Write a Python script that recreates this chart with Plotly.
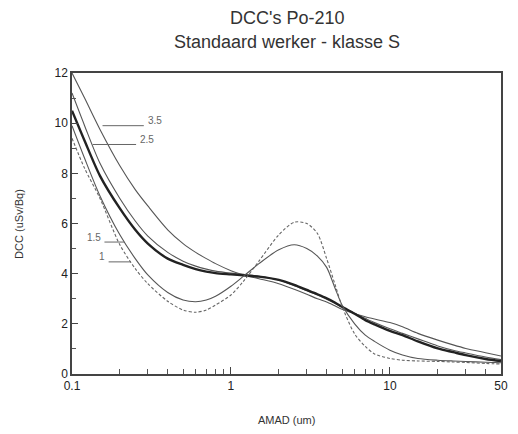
import math
import plotly.graph_objects as go

amad = [0.1, 0.12, 0.15, 0.2, 0.25, 0.3, 0.4, 0.5, 0.6, 0.7, 0.8, 1, 1.2, 1.5, 2, 2.5,
        3, 3.5, 4, 4.5, 5, 6, 7, 8, 10, 12, 15, 20, 25, 30, 40, 50]

dcc_35 = [12.0, 11.0, 9.75, 8.3, 7.35, 6.7, 5.75, 5.2, 4.85, 4.6, 4.4, 4.12, 3.95, 3.8, 3.6, 3.38,
          3.18, 3.0, 2.87, 2.72, 2.58, 2.4, 2.28, 2.19, 2.05, 1.88, 1.62, 1.35, 1.16, 1.02, 0.85, 0.72]
dcc_25 = [11.2, 9.9, 8.4, 7.0, 6.1, 5.5, 4.85, 4.5, 4.3, 4.18, 4.1, 4.02, 3.97, 3.9, 3.75, 3.52,
          3.32, 3.15, 2.98, 2.82, 2.67, 2.42, 2.22, 2.05, 1.8, 1.62, 1.4, 1.12, 0.95, 0.84, 0.68, 0.58]
dcc_thick = [10.5, 9.3, 7.9, 6.6, 5.75, 5.2, 4.6, 4.35, 4.18, 4.08, 4.02, 3.97, 3.93, 3.88, 3.75, 3.55,
             3.35, 3.18, 3.02, 2.85, 2.68, 2.4, 2.15, 1.98, 1.72, 1.55, 1.3, 1.02, 0.87, 0.75, 0.6, 0.52]
dcc_15 = [9.9, 8.6, 7.1, 5.55, 4.6, 3.95, 3.25, 2.95, 2.88, 2.95, 3.1, 3.5, 3.9, 4.4, 4.95, 5.15,
          5.0, 4.7, 4.25, 3.45, 2.75, 2.0, 1.55, 1.3, 0.95, 0.76, 0.62, 0.55, 0.52, 0.5, 0.47, 0.45]
dcc_1 = [9.4, 8.2, 7.0, 5.15, 4.2, 3.6, 2.9, 2.55, 2.46, 2.55, 2.75, 3.15, 3.7, 4.5, 5.55, 6.05,
         6.0, 5.6, 4.6, 3.6, 2.7, 1.6, 1.1, 0.8, 0.62, 0.55, 0.52, 0.5, 0.48, 0.46, 0.42, 0.4]

x_ticks = [0.1, 1, 10, 50]
x_tick_labels = ["0.1", "1", "10", "50"]
x_minor = [0.2, 0.3, 0.4, 0.5, 0.6, 0.7, 0.8, 0.9, 2, 3, 4, 5, 6, 7, 8, 9, 20, 30, 40]
y_ticks = [0, 2, 4, 6, 8, 10, 12]

FONT = "Liberation Sans, Arial, sans-serif"

fig = go.Figure()
series = [
    (dcc_35, "3.5", dict(color="#555", width=1.1)),
    (dcc_25, "2.5", dict(color="#555", width=1.1)),
    (dcc_thick, "", dict(color="#222", width=2.4)),
    (dcc_15, "1.5", dict(color="#555", width=1.1)),
    (dcc_1, "1", dict(color="#666", width=1.1, dash="3px,2px")),
]
for ys, name, ln in series:
    fig.add_trace(go.Scatter(x=amad, y=ys, mode="lines", name=name,
                             line=dict(shape="spline", smoothing=0.8, **ln),
                             showlegend=False))

# leader lines and curve labels
leaders = [
    ("3.5", 0.1556, 0.283, 9.9, 0.29, 10.1, "left"),
    ("2.5", 0.135, 0.253, 9.15, 0.26, 9.35, "left"),
    ("1.5", 0.16, 0.213, 5.26, 0.157, 5.45, "right"),
    ("1", 0.17, 0.235, 4.47, 0.166, 4.68, "right"),
]
for txt, x0, x1, yv, tx, ty, anc in leaders:
    fig.add_shape(type="line", xref="x", yref="y", x0=x0, x1=x1, y0=yv, y1=yv,
                  line=dict(color="#666", width=1))
    fig.add_annotation(x=math.log10(tx), y=ty, xref="x", yref="y", text=txt, showarrow=False,
                       xanchor=anc, yanchor="middle", font=dict(family=FONT, size=10, color="#666"))

# titles
fig.add_annotation(x=0.5, y=1.183, xref="paper", yref="paper", text="DCC's Po-210",
                   showarrow=False, yanchor="middle", font=dict(family=FONT, size=18, color="#333"))
fig.add_annotation(x=0.5, y=1.103, xref="paper", yref="paper", text="Standaard werker - klasse S",
                   showarrow=False, yanchor="middle", font=dict(family=FONT, size=18, color="#333"))
fig.add_annotation(x=0.5, y=-0.153, xref="paper", yref="paper", text="AMAD (um)",
                   showarrow=False, yanchor="middle", font=dict(family=FONT, size=11, color="#333"))
fig.add_annotation(x=-0.125, y=0.5, xref="paper", yref="paper", text="DCC (uSv/Bq)",
                   textangle=-90, showarrow=False, xanchor="center", yanchor="middle",
                   font=dict(family=FONT, size=11, color="#333"))

fig.update_xaxes(type="log", range=[-1, 1.69897], tickvals=x_ticks, ticktext=x_tick_labels,
                 ticks="inside", ticklen=7, tickcolor="#444", showgrid=False, zeroline=False,
                 showline=True, linecolor="#444", linewidth=1.5, mirror=True,
                 tickfont=dict(family=FONT, size=12, color="#222"),
                 minor=dict(tickvals=x_minor, ticks="inside", ticklen=5, tickcolor="#555", showgrid=False))
fig.update_yaxes(range=[0, 12], tickvals=y_ticks, ticks="inside", ticklen=6, tickcolor="#444",
                 showgrid=False, zeroline=False, showline=True, linecolor="#444", linewidth=1.5,
                 mirror=True, tickfont=dict(family=FONT, size=12, color="#222"),
                 minor=dict(dtick=1, ticks="inside", ticklen=4, tickcolor="#555", showgrid=False))

fig.update_layout(width=510, height=426, margin=dict(l=64, r=10, t=65, b=60),
                  plot_bgcolor="white", paper_bgcolor="white", font=dict(family=FONT))

fig.write_html("out.html")
